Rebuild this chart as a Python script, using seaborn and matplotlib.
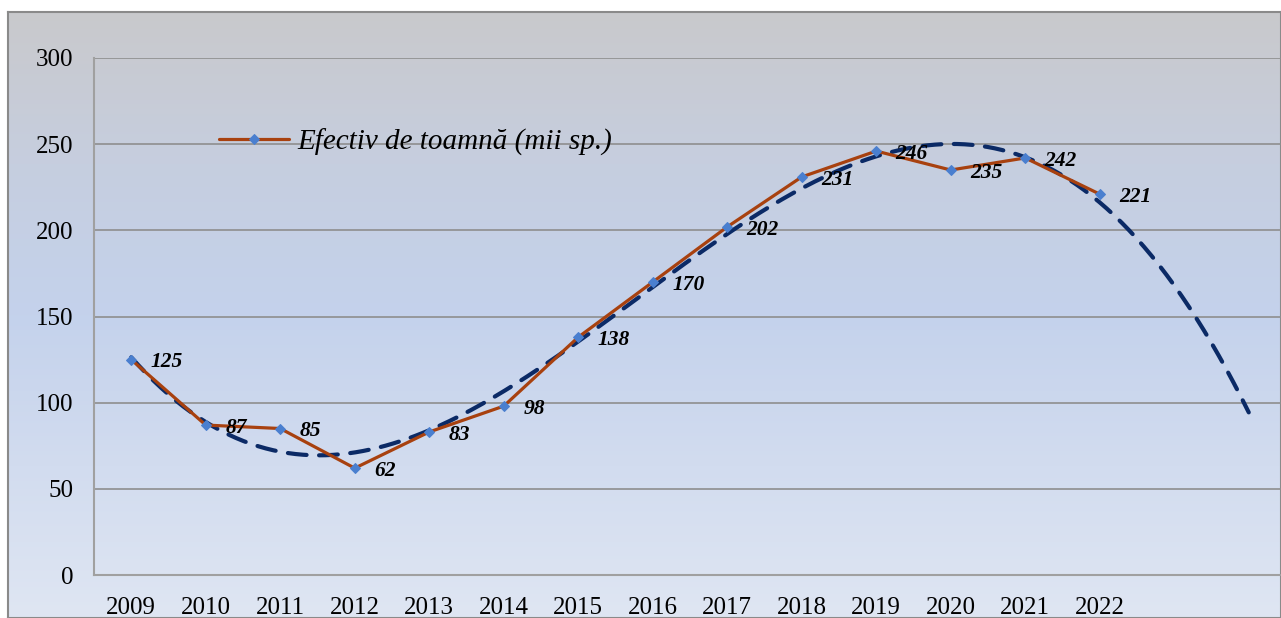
import numpy as np
import pandas as pd
import matplotlib
matplotlib.use("Agg")
import matplotlib.pyplot as plt
import seaborn as sns
from matplotlib.colors import LinearSegmentedColormap

years = [2009, 2010, 2011, 2012, 2013, 2014, 2015, 2016, 2017, 2018, 2019, 2020, 2021, 2022]
values = [125, 87, 85, 62, 83, 98, 138, 170, 202, 231, 246, 235, 242, 221]
series_name = "Efectiv de toamnă (mii sp.)"
trend_degree = 3
forecast_periods = 2

sns.set_theme(style="white")
plt.rcParams['font.family'] = ['Liberation Serif', 'DejaVu Serif']

W, H = 1281, 618
fig = plt.figure(figsize=(W / 100, H / 100), dpi=100)
fig.patch.set_facecolor("white")

# gradient background of the chart area
bg = fig.add_axes([8 / W, 0, 1 - 8 / W, 1 - 12 / H], zorder=0)
cmap = LinearSegmentedColormap.from_list("bg", ["#C9C9CC", "#C6CEDF", "#C4D2EC", "#D2DCEF", "#DFE6F3"])
grad = np.linspace(0, 1, 256).reshape(-1, 1)
bg.imshow(grad, aspect="auto", cmap=cmap, extent=[0, 1, 0, 1], origin="upper")
bg.set_xlim(0, 1); bg.set_ylim(0, 1)
bg.set_xticks([]); bg.set_yticks([])
for s in bg.spines.values():
    s.set_color("#8A8A8A"); s.set_linewidth(1.5)

n = len(years)
ncat = n + forecast_periods
cat_w = 74.5
left_px, bottom_px, top_px = 94, 575, 58
ax = fig.add_axes([left_px / W, 1 - bottom_px / H, ncat * cat_w / W, (bottom_px - top_px) / H], zorder=2)
ax.patch.set_alpha(0)

df = pd.DataFrame({"x": np.arange(n), "v": values})
sns.lineplot(data=df, x="x", y="v", ax=ax, color="#A8410F", linewidth=2.3,
             marker="D", markersize=5.5, markerfacecolor="#4A7FCF", markeredgecolor="#4A7FCF",
             label=series_name, zorder=4)

# polynomial trendline (fit of the data, forecast forward 2 periods)
xs = np.linspace(0, ncat - 1, 300)
coef = np.polyfit(np.arange(n), values, trend_degree)
ax.plot(xs, np.polyval(coef, xs), color="#0B2A66", lw=3, ls=(0, (4.5, 3)),
        dash_capstyle="round", zorder=3)

for i, v in enumerate(values):
    ax.annotate(str(v), (i, v), xytext=(14, -2), textcoords="offset points",
                ha="left", va="center", fontsize=15.5, fontweight="bold", fontstyle="italic",
                color="black", zorder=5)

ax.set_xlim(-0.5, ncat - 0.5)
ax.set_ylim(0, 300)
ax.set_yticks(np.arange(0, 301, 50))
ax.set_xticks(np.arange(n))
ax.set_xticklabels([str(y) for y in years])
ax.set_xticks(np.arange(-0.5, ncat, 1), minor=True)
ax.tick_params(axis="x", which="major", length=0, pad=16, labelsize=18, labelcolor="black")
ax.tick_params(axis="x", which="minor", length=7, width=1.2, color="#A0A0A0", direction="out")
ax.tick_params(axis="y", which="major", length=7, width=1.2, color="#A0A0A0", direction="out",
               pad=8, labelsize=18, labelcolor="black")
ax.set_xlabel(""); ax.set_ylabel("")
ax.yaxis.grid(True, color="#8E8E8E", linewidth=1.2)
ax.xaxis.grid(False)
ax.set_axisbelow(True)
for side in ["top", "right"]:
    ax.spines[side].set_visible(False)
for side in ["left", "bottom"]:
    ax.spines[side].set_color("#A0A0A0"); ax.spines[side].set_linewidth(1.5)

leg = ax.legend(loc="center left", bbox_to_anchor=(219 / W, 1 - 142 / H), bbox_transform=fig.transFigure,
                frameon=False, prop={"family": "Liberation Serif", "style": "italic", "size": 21},
                handlelength=2.4, handletextpad=0.28, borderpad=0, borderaxespad=0)
for t in leg.get_texts():
    t.set_color("black")

fig.savefig("out.png", dpi=100)
